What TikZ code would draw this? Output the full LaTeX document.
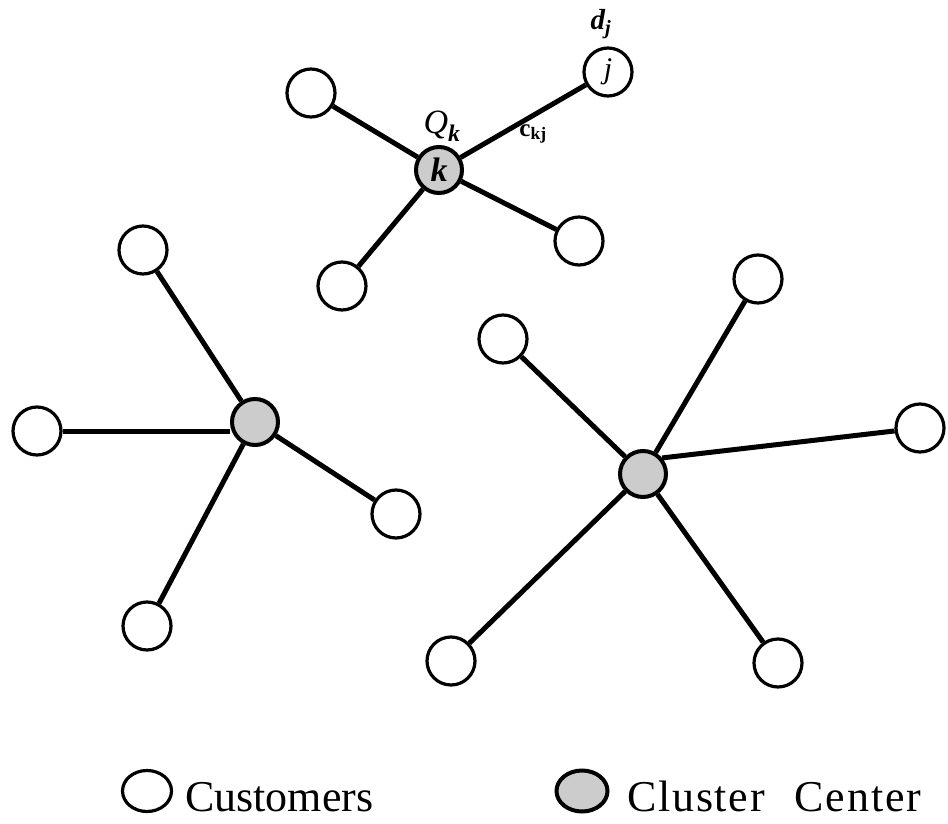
\documentclass[tikz,border=0pt]{standalone}
\usepackage{fontspec}
\setmainfont{Liberation Serif}
\usetikzlibrary{shapes.geometric}
\tikzset{
  cust/.style={circle, draw, line width=3.2pt, minimum size=48pt, inner sep=0pt, fill=white},
  hub/.style={circle, draw, line width=4pt, minimum size=46pt, inner sep=0pt, fill=gray!40},
  link/.style={line width=5pt},
  lbl/.style={inner sep=0pt},
}
\begin{document}
\begin{tikzpicture}[x=1pt, y=-1pt]
\useasboundingbox (0,0) rectangle (948,824);

% upper cluster with its labels
\node[hub]  (k)  at (439,170) {\fontsize{34}{34}\selectfont\bfseries\itshape k};
\node[cust] (t1) at (311,93)  {};
\node[cust] (t2) at (342,286) {};
\node[cust] (j)  at (608,72)  {\fontsize{30}{30}\selectfont\itshape j};
\node[cust] (t4) at (579,241) {};
\draw[link] (k) -- (t1);
\draw[link] (k) -- (t2);
\draw[link] (k) -- (j);
\draw[link] (k) -- (t4);
\node[lbl] (Q) at (442,126) {\fontsize{34}{34}\selectfont\itshape Q\textsubscript{\bfseries k}};
\node[lbl] (d) at (601,24)  {\fontsize{29}{29}\selectfont\bfseries\itshape d\textsubscript{j}};
\node[lbl] (c) at (533,134) {\fontsize{25}{25}\selectfont\bfseries c\textsubscript{kj}};

% left cluster
\node[hub]  (L)  at (255,422) {};
\node[cust] (l1) at (143,250) {};
\node[cust] (l2) at (37,431)  {};
\node[cust] (l3) at (396,514) {};
\node[cust] (l4) at (147,626) {};
\draw[link] (L) -- (l1);
\draw[link] (l2) -- (L.west |- l2);
\draw[link] (L) -- (l3);
\draw[link] (L) -- (l4);

% right cluster
\node[hub]  (R)  at (643,474) {};
\node[cust] (r1) at (503,339) {};
\node[cust] (r2) at (758,279) {};
\node[cust] (r3) at (920,428) {};
\node[cust] (r4) at (451,661) {};
\node[cust] (r5) at (778,663) {};
\draw[link] (R) -- (r1);
\draw[link] (R) -- (r2);
\draw[link] (r3) -- (R.40);
\draw[link] (R) -- (r4);
\draw[link] (R) -- (r5);

% legend
\node[ellipse, draw, line width=3.2pt, minimum width=49pt, minimum height=41pt, inner sep=0pt] (lc) at (147,791) {};
\node[lbl, anchor=base west] (lct) at (185,811) {\fontsize{44}{44}\selectfont Customers};
\node[ellipse, draw, line width=4pt, fill=gray!40, minimum width=51pt, minimum height=41pt, inner sep=0pt] (lh) at (582,791) {};
\node[lbl, anchor=base west] (lht) at (627,811) {\fontsize{44}{44}\selectfont\addfontfeature{LetterSpace=4}Cluster\hspace{30pt}Center};
\end{tikzpicture}
\end{document}
